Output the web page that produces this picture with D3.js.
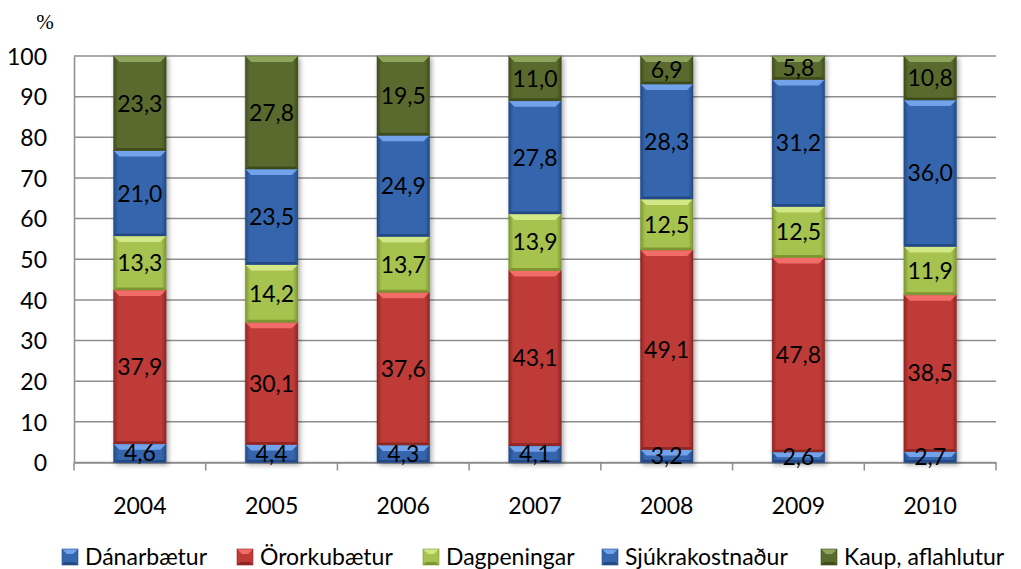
<!DOCTYPE html>
<html>
<head>
<meta charset="utf-8">
<script src="https://cdn.jsdelivr.net/npm/d3@7"></script>
<style>
  body { margin: 0; background: #fff; }
  svg { display: block; font-family: Lato, 'Open Sans', sans-serif; }
</style>
</head>
<body>
<svg id="chart" width="1021" height="569"></svg>
<script>
const years = ['2004', '2005', '2006', '2007', '2008', '2009', '2010']
const seriesNames = ['Dánarbætur', 'Örorkubætur', 'Dagpeningar', 'Sjúkrakostnaður', 'Kaup, aflahlutur']
const danarbaetur = [4.6, 4.4, 4.3, 4.1, 3.2, 2.6, 2.7]
const ororkubaetur = [37.9, 30.1, 37.6, 43.1, 49.1, 47.8, 38.5]
const dagpeningar = [13.3, 14.2, 13.7, 13.9, 12.5, 12.5, 11.9]
const sjukrakostnadur = [21.0, 23.5, 24.9, 27.8, 28.3, 31.2, 36.0]
const kaup = [23.3, 27.8, 19.5, 11.0, 6.9, 5.8, 10.8]
const yTicks = [0, 10, 20, 30, 40, 50, 60, 70, 80, 90, 100]

const seriesValues = [danarbaetur, ororkubaetur, dagpeningar, sjukrakostnadur, kaup]
// body colour, bevel light, edge dark
const palette = [
  { base: '#3566ad', light: '#72a3ea', dark: '#244a85' },
  { base: '#be3b38', light: '#f26c68', dark: '#8f2624' },
  { base: '#a6c34f', light: '#d2e886', dark: '#7d9631' },
  { base: '#3566ad', light: '#72a3ea', dark: '#244a85' },
  { base: '#5a6b2e', light: '#8ea35c', dark: '#3f4c1d' }
]
const FONT = '23px'

const svg = d3.select('#chart')
const margin = { left: 74, right: 25, top: 56, bottom: 106.5 }
const width = 1021 - margin.left - margin.right
const height = 569 - margin.top - margin.bottom

const rows = years.map((y, i) => {
  let r = { year: y }
  seriesNames.forEach((s, k) => { r[s] = seriesValues[k][i] })
  return r
})

const stack = d3.stack().keys(seriesNames).offset(d3.stackOffsetExpand)
const layers = stack(rows)

const x = d3.scaleBand().domain(years).range([0, width]).paddingInner(0.6).paddingOuter(0.3)
const y = d3.scaleLinear().domain([0, 1]).range([height, 0])

const defs = svg.append('defs')
palette.forEach((p, i) => {
  let g = defs.append('linearGradient').attr('id', 'grad' + i).attr('x1', 0).attr('x2', 1).attr('y1', 0).attr('y2', 0)
  g.append('stop').attr('offset', '0%').attr('stop-color', p.dark)
  g.append('stop').attr('offset', '9%').attr('stop-color', p.base)
  g.append('stop').attr('offset', '91%').attr('stop-color', p.base)
  g.append('stop').attr('offset', '100%').attr('stop-color', p.dark)
})
defs.append('filter').attr('id', 'barShadow').attr('x', '-20%').attr('y', '-5%').attr('width', '150%').attr('height', '115%')
  .append('feDropShadow').attr('dx', 2).attr('dy', 2).attr('stdDeviation', 2.5)
  .attr('flood-color', '#000').attr('flood-opacity', 0.35)

const g = svg.append('g').attr('transform', `translate(${margin.left},${margin.top})`)

// Gridlines
g.append('g')
  .selectAll('line')
  .data(yTicks.map(t => t / 100))
  .join('line')
  .attr('x1', 0)
  .attr('x2', width)
  .attr('y1', d => y(d))
  .attr('y2', d => y(d))
  .attr('stroke', '#8e8e8e')
  .attr('stroke-width', 1.5)

// Y axis
const yAxis = g.append('g')
  .call(d3.axisLeft(y).tickValues(yTicks.map(t => t / 100)).tickFormat(d => Math.round(d * 100)).tickSize(0).tickPadding(27))
yAxis.select('.domain').attr('stroke', '#8e8e8e').attr('stroke-width', 1.5)
yAxis.selectAll('text').style('font-size', FONT).style('fill', '#000').attr('dy', '0.36em').style('font-family', 'Lato')

// X axis
const xAxis = g.append('g')
  .attr('transform', `translate(0,${height})`)
  .call(d3.axisBottom(x).tickSize(0).tickPadding(35))
xAxis.select('.domain').attr('stroke', '#8e8e8e').attr('stroke-width', 1.5)
xAxis.selectAll('text').style('font-size', FONT).style('fill', '#000').style('font-family', 'Lato')
// tick marks between categories
const step = x.step()
xAxis.append('g')
  .selectAll('line')
  .data(d3.range(years.length + 1))
  .join('line')
  .attr('x1', i => i * step)
  .attr('x2', i => i * step)
  .attr('y1', 0)
  .attr('y2', 8)
  .attr('stroke', '#8e8e8e')
  .attr('stroke-width', 1.5)

// Bars
const bev = 6
const cols = g.append('g')
  .selectAll('g.col')
  .data(years)
  .join('g')
  .attr('class', 'col')
  .attr('filter', 'url(#barShadow)')

layers.forEach((layer, k) => {
  layer.forEach((d, i) => {
    let col = d3.select(cols.nodes()[i])
    let x0 = x(years[i])
    let x1 = x0 + x.bandwidth()
    let yTop = y(d[1])
    let yBot = y(d[0])
    let h = yBot - yTop
    let b = Math.min(bev, h / 2)
    let p = palette[k]
    col.append('rect')
      .attr('x', x0)
      .attr('y', yTop)
      .attr('width', x.bandwidth())
      .attr('height', h)
      .attr('fill', `url(#grad${k})`)
    col.append('polygon')
      .attr('points', [[x0, yTop], [x1, yTop], [x1 - b, yTop + b], [x0 + b, yTop + b]].join(' '))
      .attr('fill', p.light)
    let bb = Math.min(2.5, h / 3)
    col.append('polygon')
      .attr('points', [[x0, yBot], [x1, yBot], [x1 - bb, yBot - bb], [x0 + bb, yBot - bb]].join(' '))
      .attr('fill', p.dark)
    col.append('rect')
      .attr('x', x0)
      .attr('y', yTop)
      .attr('width', x.bandwidth())
      .attr('height', h)
      .attr('fill', 'none')
      .attr('stroke', p.dark)
      .attr('stroke-opacity', 0.5)
      .attr('stroke-width', 0.75)
  })
})

// Data labels
layers.forEach((layer, k) => {
  g.append('g')
    .selectAll('text')
    .data(layer)
    .join('text')
    .attr('x', (d, i) => x(years[i]) + x.bandwidth() / 2)
    .attr('y', d => (y(d[0]) + y(d[1])) / 2)
    .attr('dy', '0.36em')
    .attr('text-anchor', 'middle')
    .style('font-size', FONT)
    .style('fill', '#000')
    .text((d, i) => seriesValues[k][i].toFixed(1).replace('.', ','))
})

// Unit label
svg.append('text')
  .attr('x', 45)
  .attr('y', 29)
  .attr('text-anchor', 'middle')
  .style('font-family', "'Liberation Serif', serif")
  .style('font-size', '21px')
  .text('%')

// Legend
const legendX = [62, 237, 423, 602, 821]
const legend = svg.append('g')
  .selectAll('g')
  .data(seriesNames)
  .join('g')
  .attr('transform', (d, i) => `translate(${legendX[i]},549)`)
legend.each(function(d, i) {
  let lg = d3.select(this)
  let p = palette[i]
  lg.append('rect').attr('width', 16).attr('height', 16).attr('fill', p.base)
  lg.append('polygon').attr('points', '0,0 16,0 11,5 5,5').attr('fill', p.light)
  lg.append('polygon').attr('points', '0,16 16,16 13,13 3,13').attr('fill', p.dark)
  lg.append('rect').attr('width', 16).attr('height', 16).attr('fill', 'none').attr('stroke', p.dark).attr('stroke-width', 0.6)
  lg.append('text')
    .attr('x', 23)
    .attr('y', 16)
    .style('font-size', FONT)
    .text(d)
})
</script>
</body>
</html>
